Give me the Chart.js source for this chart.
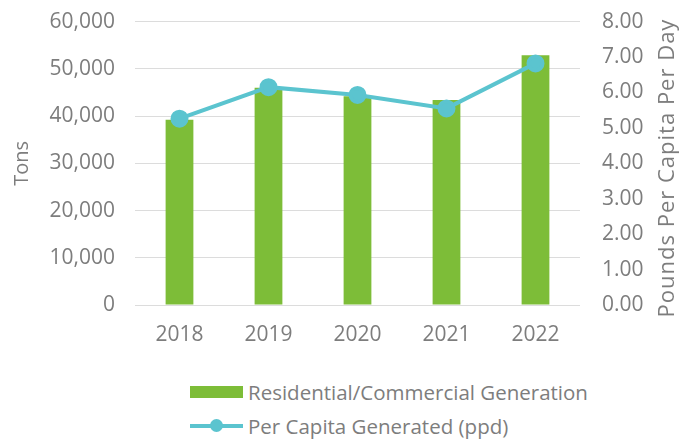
<!DOCTYPE html>
<html>
<head>
<meta charset="utf-8">
<script src="https://cdn.jsdelivr.net/npm/chart.js@4"></script>
<style>
  html, body { margin: 0; padding: 0; background: #fff; }
  #wrap { position: relative; width: 688px; height: 446px; overflow: hidden; font-family: "Open Sans", sans-serif; color: #7d7d7d; }
  #chartBox { position: absolute; left: 0; top: -13px; width: 688px; height: 373px; }
  #rtitle { position: absolute; left: 665px; top: 168px; width: 340px; margin-left: -170px; margin-top: -15px; height: 30px; line-height: 30px; text-align: center; font-size: 22px; letter-spacing: 1px; white-space: nowrap; transform: rotate(-90deg); }
  #legend { position: absolute; left: 190px; top: 375px; font-size: 20.5px; line-height: 34px; }
  .item { display: flex; align-items: center; height: 34px; }
  .swatch { position: relative; width: 53px; height: 14px; margin-right: 5px; }
  .bar { position: absolute; left: 0; top: 1px; width: 53px; height: 12px; }
  .line { position: absolute; left: 0; top: 5px; width: 53px; height: 4px; }
  .dot { position: absolute; left: 20px; top: 0px; width: 13px; height: 13px; border-radius: 50%; }
</style>
</head>
<body>
<div id="wrap">
  <div id="chartBox"><canvas id="c"></canvas></div>
  <div id="rtitle"></div>
  <div id="legend"></div>
</div>
<script>
const categories = ["2018", "2019", "2020", "2021", "2022"];
const tonsValues = [39200, 46000, 44200, 43400, 52900];
const perCapitaValues = [5.26, 6.15, 5.93, 5.55, 6.82];
const barLabel = "Residential/Commercial Generation";
const lineLabel = "Per Capita Generated (ppd)";
const leftTitle = "Tons";
const rightTitle = "Pounds Per Capita Per Day";

const GREEN = "rgb(125,189,56)";
const TEAL = "rgb(91,196,207)";
const GREY = "#7d7d7d";
const FONT = { family: "Open Sans", size: 21 };

new Chart(document.getElementById("c"), {
  data: {
    labels: categories,
    datasets: [
      {
        type: "line",
        label: lineLabel,
        data: perCapitaValues,
        yAxisID: "y1",
        borderColor: TEAL,
        backgroundColor: TEAL,
        borderWidth: 4,
        pointRadius: 7,
        pointBackgroundColor: TEAL,
        pointBorderColor: TEAL,
        tension: 0,
        order: 0
      },
      {
        type: "bar",
        label: barLabel,
        data: tonsValues,
        yAxisID: "y",
        backgroundColor: GREEN,
        categoryPercentage: 0.8,
        barPercentage: 0.39,
        order: 1
      }
    ]
  },
  options: {
    responsive: true,
    maintainAspectRatio: false,
    animation: false,
    layout: { padding: { top: 6, left: 0, right: 0, bottom: 0 } },
    plugins: { legend: { display: false }, tooltip: { enabled: false } },
    scales: {
      x: {
        grid: { display: false, drawTicks: false },
        border: { display: false },
        ticks: { color: GREY, font: FONT, padding: 17 },
        afterFit: (s) => { s.height = 55; }
      },
      y: {
        position: "left",
        min: 0, max: 60000,
        ticks: { stepSize: 10000, color: GREY, font: FONT, padding: 20,
          callback: (v) => v.toLocaleString("en-US") },
        grid: { color: "#dcdcdc", lineWidth: 1, drawTicks: false },
        border: { display: false },
        title: { display: true, text: leftTitle, color: GREY, font: { family: "Open Sans", size: 20 }, padding: { top: 10, bottom: 4 } },
        afterFit: (s) => { s.width = 135; }
      },
      y1: {
        position: "right",
        min: 0, max: 8,
        ticks: { stepSize: 1, color: GREY, font: FONT, padding: 22,
          callback: (v) => Number(v).toFixed(2) },
        grid: { display: false, drawTicks: false },
        border: { display: false },
        title: { display: false },
        afterFit: (s) => { s.width = 108; }
      }
    }
  }
});

document.getElementById("rtitle").textContent = rightTitle;
const legend = document.getElementById("legend");
legend.innerHTML =
  '<div class="item"><div class="swatch"><div class="bar" style="background:' + GREEN + '"></div></div><span>' + barLabel + '</span></div>' +
  '<div class="item"><div class="swatch"><div class="line" style="background:' + TEAL + '"></div><div class="dot" style="background:' + TEAL + '"></div></div><span>' + lineLabel + '</span></div>';
</script>
</body>
</html>
